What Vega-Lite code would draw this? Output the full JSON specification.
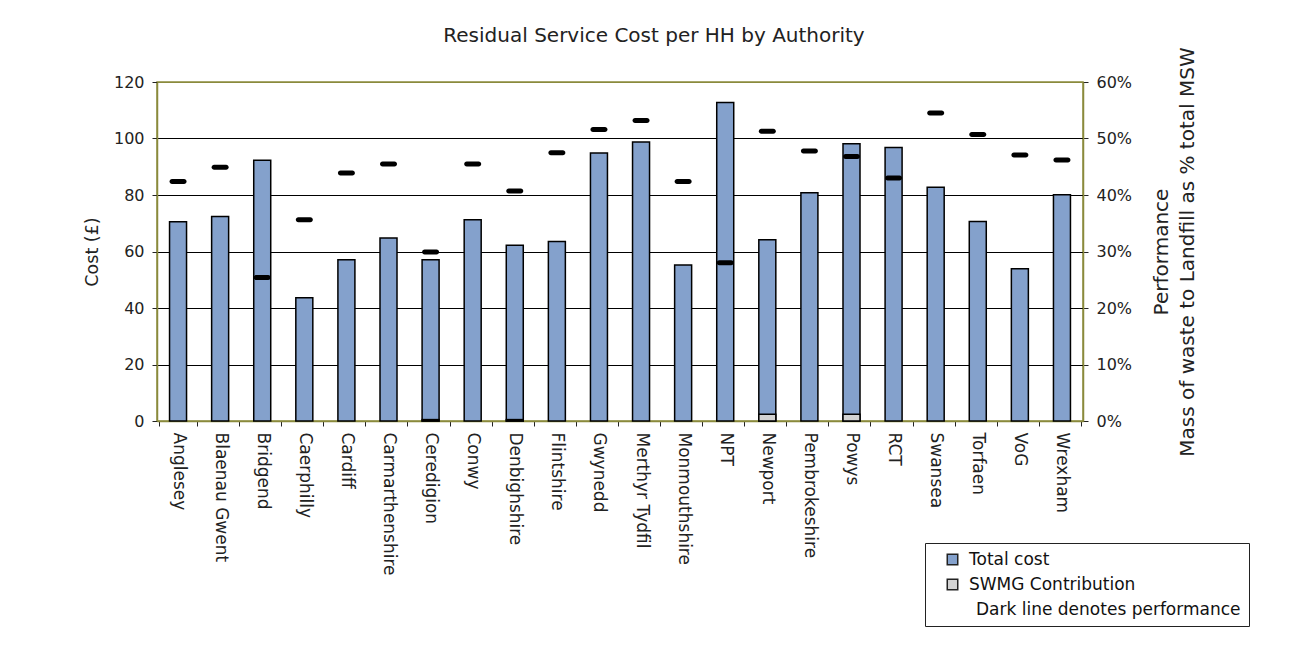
{
  "$schema": "https://vega.github.io/schema/vega-lite/v6.json",
  "width": 926,
  "height": 339,
  "autosize": {"type": "none"},
  "padding": {"left": 157, "top": 82, "right": 222, "bottom": 234},
  "background": "white",
  "config": {
    "font": "DejaVu Sans",
    "view": {"stroke": "#8a8a3c", "strokeWidth": 1.5},
    "axis": {"labelFontSize": 16, "titleFontSize": 17.5, "titleFontWeight": "normal", "labelColor": "#222", "titleColor": "#222", "tickColor": "#222", "tickSize": 5, "domainColor": "#8a8a3c", "domainWidth": 1.5}
  },
  "title": {"text": "Residual Service Cost per HH by Authority", "fontSize": 20, "fontWeight": "normal", "color": "#222", "anchor": "middle", "dx": 34, "offset": 1},
  "datasets": {
    "costs": [
      {"authority": "Anglesey", "series": "Total cost", "cost": 70.5},
      {"authority": "Blaenau Gwent", "series": "Total cost", "cost": 72.4},
      {"authority": "Bridgend", "series": "Total cost", "cost": 92.3},
      {"authority": "Caerphilly", "series": "Total cost", "cost": 43.6},
      {"authority": "Cardiff", "series": "Total cost", "cost": 57.1},
      {"authority": "Carmarthenshire", "series": "Total cost", "cost": 64.8},
      {"authority": "Ceredigion", "series": "Total cost", "cost": 57.1},
      {"authority": "Conwy", "series": "Total cost", "cost": 71.2},
      {"authority": "Denbighshire", "series": "Total cost", "cost": 62.2},
      {"authority": "Flintshire", "series": "Total cost", "cost": 63.5},
      {"authority": "Gwynedd", "series": "Total cost", "cost": 94.9},
      {"authority": "Merthyr Tydfil", "series": "Total cost", "cost": 98.8},
      {"authority": "Monmouthshire", "series": "Total cost", "cost": 55.2},
      {"authority": "NPT", "series": "Total cost", "cost": 112.7},
      {"authority": "Newport", "series": "Total cost", "cost": 64.2},
      {"authority": "Pembrokeshire", "series": "Total cost", "cost": 80.8},
      {"authority": "Powys", "series": "Total cost", "cost": 98.1},
      {"authority": "RCT", "series": "Total cost", "cost": 96.8},
      {"authority": "Swansea", "series": "Total cost", "cost": 82.7},
      {"authority": "Torfaen", "series": "Total cost", "cost": 70.6},
      {"authority": "VoG", "series": "Total cost", "cost": 53.9},
      {"authority": "Wrexham", "series": "Total cost", "cost": 80.1},
      {"authority": "Ceredigion", "series": "SWMG Contribution", "cost": 0.5},
      {"authority": "Denbighshire", "series": "SWMG Contribution", "cost": 0.5},
      {"authority": "Newport", "series": "SWMG Contribution", "cost": 2.4},
      {"authority": "Powys", "series": "SWMG Contribution", "cost": 2.4}
    ],
    "perf": [
      {"authority": "Anglesey", "performance": 0.424},
      {"authority": "Blaenau Gwent", "performance": 0.449},
      {"authority": "Bridgend", "performance": 0.254},
      {"authority": "Caerphilly", "performance": 0.356},
      {"authority": "Cardiff", "performance": 0.439},
      {"authority": "Carmarthenshire", "performance": 0.455},
      {"authority": "Ceredigion", "performance": 0.299},
      {"authority": "Conwy", "performance": 0.455},
      {"authority": "Denbighshire", "performance": 0.407},
      {"authority": "Flintshire", "performance": 0.475},
      {"authority": "Gwynedd", "performance": 0.516},
      {"authority": "Merthyr Tydfil", "performance": 0.532},
      {"authority": "Monmouthshire", "performance": 0.424},
      {"authority": "NPT", "performance": 0.280},
      {"authority": "Newport", "performance": 0.513},
      {"authority": "Pembrokeshire", "performance": 0.478},
      {"authority": "Powys", "performance": 0.468},
      {"authority": "RCT", "performance": 0.430},
      {"authority": "Swansea", "performance": 0.545},
      {"authority": "Torfaen", "performance": 0.507},
      {"authority": "VoG", "performance": 0.471},
      {"authority": "Wrexham", "performance": 0.462}
    ]
  },
  "layer": [
    {
      "data": {"name": "costs"},
      "mark": {"type": "bar", "width": 17, "stroke": "black", "strokeWidth": 1.5, "opacity": 1},
      "encoding": {
        "x": {"field": "authority", "type": "nominal", "sort": null,
          "axis": {"title": null, "labelAngle": 90, "labelAlign": "left", "labelBaseline": "middle", "labelPadding": 6, "labelFontSize": 17, "tickBand": "extent", "ticks": true}},
        "y": {"field": "cost", "type": "quantitative", "stack": null,
          "scale": {"domain": [0, 120]},
          "axis": {"title": "Cost (£)", "values": [0, 20, 40, 60, 80, 100, 120], "labelPadding": 8, "titlePadding": 12,
            "grid": true, "gridColor": {"condition": {"test": "datum.value == 0 || datum.value == 120", "value": "#8a8a3c"}, "value": "#000"}, "gridWidth": 1}},
        "color": {"field": "series", "type": "nominal",
          "scale": {"domain": ["Total cost", "SWMG Contribution", "Dark line denotes performance"], "range": ["#84a1cc", "#d3d3d3", "transparent"]},
          "legend": {"title": null, "orient": "none", "legendX": 768, "legendY": 461, "strokeColor": "#222", "padding": 8, "symbolOffset": 11, "labelOffset": 8, "symbolType": "square", "symbolSize": 110, "symbolStrokeWidth": 1.5, "symbolStrokeColor": "#222", "symbolOpacity": 1, "labelFontSize": 17, "labelColor": "#111", "rowPadding": 7, "labelLimit": 400,
            "encode": {
              "symbols": {"update": {"stroke": {"signal": "datum.label === 'Dark line denotes performance' ? 'transparent' : '#222'"}}},
              "labels": {"update": {"dx": {"signal": "datum.label === 'Dark line denotes performance' ? 7 : 0"}}}
            }}}
      }
    },
    {
      "data": {"name": "perf"},
      "mark": {"type": "tick", "color": "black", "size": 17, "thickness": 5, "cornerRadius": 2.5, "opacity": 1},
      "encoding": {
        "x": {"field": "authority", "type": "nominal", "sort": null},
        "y": {"field": "performance", "type": "quantitative",
          "scale": {"domain": [0, 0.6]},
          "axis": {"orient": "right", "format": ".0%", "values": [0, 0.1, 0.2, 0.3, 0.4, 0.5, 0.6], "grid": false, "labelPadding": 8, "titlePadding": 14, "titleAngle": 270, "titleBaseline": "bottom", "titleFontSize": 20, "titleLineHeight": 26,
            "title": ["Performance", "Mass of waste to Landfill as % total MSW"]}}
      }
    }
  ],
  "resolve": {"scale": {"y": "independent"}}
}
